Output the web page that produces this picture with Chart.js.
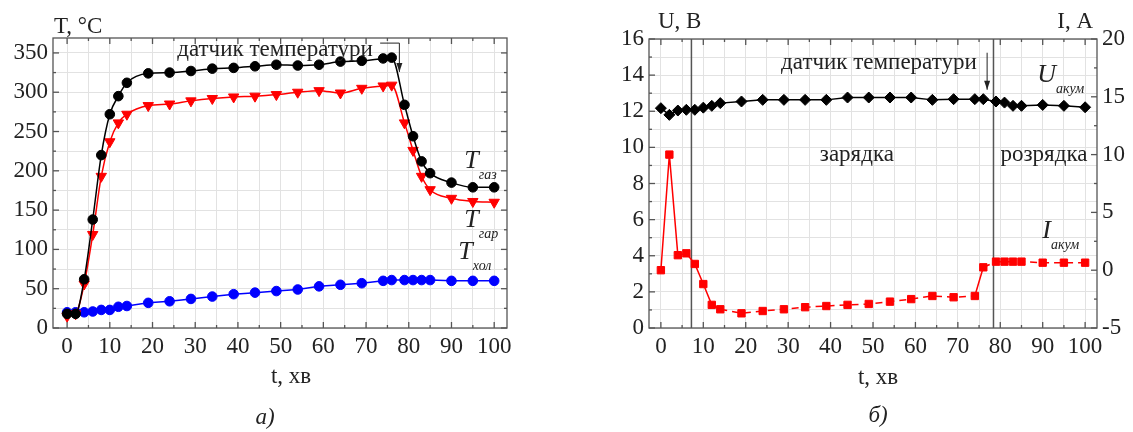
<!DOCTYPE html>
<html>
<head>
<meta charset="utf-8">
<script src="https://cdn.jsdelivr.net/npm/chart.js@4.4.0/dist/chart.umd.min.js"></script>
<style>
body { margin: 0; background: #fff; width: 1133px; height: 432px; overflow: hidden; }
canvas { position: absolute; top: 0; }
#chartA { left: 0; }
#chartB { left: 580px; }
</style>
</head>
<body>
<canvas id="chartA" width="560" height="432"></canvas>
<canvas id="chartB" width="553" height="432"></canvas>
<script>
// time, minutes (same sampling for both panels)
var TIME = [0,2,4,6,8,10,12,14,19,24,29,34,39,44,49,54,59,64,69,74,76,79,81,83,85,90,95,100];

// panel a) temperatures, °C
var T_GAZ = [18,18,62,138,220,272,295,312,324,325,327,330,331,333,335,334,335,339,340,343,344,284,244,212,197,185,179,179];
var T_GAR = [15,18,56,119,193,237,261,272,283,285,289,292,294,295,297,300,302,299,305,308,309,261,226,193,176,165,161,160];
var T_HOL = [20,20,20,21,23,23,27,28,32,34,37,40,43,45,47,49,53,55,57,60,61,61,61,61,61,60,60,60];

// panel б) battery voltage (V) and current (A)
var U_AKUM = [12.17,11.8,12.04,12.08,12.08,12.2,12.3,12.45,12.54,12.63,12.63,12.63,12.63,12.76,12.76,12.76,12.76,12.63,12.67,12.67,12.67,12.54,12.48,12.3,12.3,12.35,12.3,12.22];
var I_AKUM = [0,10,1.3,1.46,0.54,-1.2,-3.0,-3.38,-3.73,-3.53,-3.38,-3.2,-3.1,-3.0,-2.92,-2.72,-2.5,-2.23,-2.34,-2.23,0.25,0.74,0.74,0.74,0.74,0.65,0.65,0.65];

// tick labels
var T_LABELS = [0,10,20,30,40,50,60,70,80,90,100];
var TEMP_LABELS = [0,50,100,150,200,250,300,350];
var U_LABELS = [0,2,4,6,8,10,12,14,16];
var I_LABELS = [-5,0,5,10,15,20];

// moments marked by vertical lines on panel б)
var PHASE_LINES = [7.2, 78.4];

var SERIF = '"Liberation Serif", "Times New Roman", serif';
var TXT = '#222';

function range(a, b, step) {
  var out = [];
  for (var v = a; v <= b + 1e-9; v += step) out.push(Math.round(v * 100) / 100);
  return out;
}

function makeScale(min, max, labels, minorStep, extra) {
  var s = {
    type: 'linear', min: min, max: max,
    afterBuildTicks: function(sc) {
      sc.ticks = range(labels[0], labels[labels.length - 1], minorStep).map(function(v){ return {value: v}; });
    },
    ticks: {
      autoSkip: false, maxRotation: 0, color: TXT, padding: 5,
      font: { family: SERIF, size: 23 },
      callback: function(v) { return labels.indexOf(v) >= 0 ? String(v) : ''; }
    },
    grid: { color: '#e2e2e2', lineWidth: 1, drawTicks: false },
    border: { display: false }
  };
  for (var k in extra) s[k] = extra[k];
  return s;
}

function line(ctx, x1, y1, x2, y2) {
  ctx.beginPath(); ctx.moveTo(x1, y1); ctx.lineTo(x2, y2); ctx.stroke();
}

// frame, inward ticks, phase lines, text notes
var decor = {
  id: 'decor',
  beforeDatasetsDraw: function(chart) {
    var o = chart.options.plugins.decor, ctx = chart.ctx, a = chart.chartArea;
    if (!o.vlines) return;
    ctx.save();
    ctx.strokeStyle = '#555'; ctx.lineWidth = 1.5;
    o.vlines.forEach(function(v) {
      var px = chart.scales.x.getPixelForValue(v);
      line(ctx, px, a.top, px, a.bottom);
    });
    ctx.restore();
  },
  afterDraw: function(chart) {
    var o = chart.options.plugins.decor, ctx = chart.ctx, a = chart.chartArea, sc = chart.scales;
    ctx.save();
    ctx.strokeStyle = '#555'; ctx.lineWidth = 1.3;
    ctx.strokeRect(a.left, a.top, a.right - a.left, a.bottom - a.top);
    sc.x.ticks.forEach(function(t) {
      var px = sc.x.getPixelForValue(t.value), len = t.label !== '' ? 6 : 3;
      line(ctx, px, a.bottom, px, a.bottom - len);
      line(ctx, px, a.top, px, a.top + len);
    });
    sc.y.ticks.forEach(function(t) {
      var py = sc.y.getPixelForValue(t.value), len = t.label !== '' ? 6 : 3;
      line(ctx, a.left, py, a.left + len, py);
      if (!sc.y2) line(ctx, a.right, py, a.right - len, py);
    });
    if (sc.y2) sc.y2.ticks.forEach(function(t) {
      var py = sc.y2.getPixelForValue(t.value), len = t.label !== '' ? 6 : 3;
      line(ctx, a.right, py, a.right - len, py);
    });

    // arrows
    ctx.strokeStyle = '#222'; ctx.fillStyle = '#222'; ctx.lineWidth = 1;
    (o.arrows || []).forEach(function(ar) {
      var pts = ar.map(function(p){ return [sc.x.getPixelForValue(p[0]), sc.y.getPixelForValue(p[1])]; });
      ctx.beginPath(); ctx.moveTo(pts[0][0], pts[0][1]);
      for (var i = 1; i < pts.length; i++) ctx.lineTo(pts[i][0], pts[i][1]);
      ctx.stroke();
      var e = pts[pts.length - 1];
      ctx.beginPath(); ctx.moveTo(e[0], e[1]); ctx.lineTo(e[0] - 3, e[1] - 9); ctx.lineTo(e[0] + 3, e[1] - 9); ctx.closePath(); ctx.fill();
    });

    // notes in data coordinates
    ctx.fillStyle = TXT;
    (o.notes || []).forEach(function(n) {
      var px = sc.x.getPixelForValue(n.x), py = sc.y.getPixelForValue(n.y);
      ctx.font = (n.italic ? 'italic ' : '') + (n.size || 23) + 'px ' + SERIF;
      ctx.textAlign = n.align || 'left';
      ctx.textBaseline = n.base || 'alphabetic';
      ctx.fillText(n.text, px, py);
      if (n.sub) {
        var w = ctx.measureText(n.text).width;
        ctx.font = 'italic 14px ' + SERIF;
        ctx.textAlign = 'left';
        ctx.fillText(n.sub, px + w, py + 11);
      }
    });

    // axis titles and panel caption
    ctx.textBaseline = 'alphabetic';
    (o.titles || []).forEach(function(t) {
      ctx.textAlign = t.align;
      var x = t.from === 'right' ? a.right + t.dx : t.from === 'center' ? (a.left + a.right) / 2 + t.dx : a.left + t.dx;
      ctx.font = (t.italic ? 'italic ' : '') + '23px ' + SERIF;
      ctx.fillText(t.text, x, t.y);
    });
    ctx.restore();
  }
};

var common = {
  responsive: false, animation: false, devicePixelRatio: 1,
  plugins: { legend: { display: false }, tooltip: { enabled: false } },
  elements: { line: { borderWidth: 1.5 }, point: { borderWidth: 1 } }
};

function series(xs, ys) {
  return xs.map(function(t, i){ return {x: t, y: ys[i]}; });
}

new Chart(document.getElementById('chartA'), {
  type: 'line',
  data: {
    datasets: [
      { data: series(TIME, T_GAZ), borderColor: '#000', backgroundColor: '#000', pointStyle: 'circle', pointRadius: 4.8, cubicInterpolationMode: 'monotone' },
      { data: series(TIME, T_GAR), borderColor: '#ff0000', backgroundColor: '#ff0000', pointStyle: 'triangle', rotation: 180, pointRadius: 6, cubicInterpolationMode: 'monotone' },
      { data: series(TIME, T_HOL), borderColor: '#0000ff', backgroundColor: '#0000ff', pointStyle: 'circle', pointRadius: 4.8 }
    ]
  },
  options: Object.assign({}, common, {
    layout: { padding: { top: 38, right: 53 } },
    scales: {
      x: makeScale(-3.3, 103, T_LABELS, 5, { afterFit: function(s){ s.height = 104; } }),
      y: makeScale(0, 369, TEMP_LABELS, 25, { afterFit: function(s){ s.width = 53; } })
    },
    plugins: Object.assign({}, common.plugins, {
      decor: {
        arrows: [[[73.3, 362.5], [77.8, 362.5], [77.8, 325.7]]],
        notes: [
          { text: 'датчик температури', x: 48.7, y: 353.6, align: 'center', base: 'middle' },
          { text: 'T', sub: 'газ', x: 93, y: 204, italic: true, size: 26 },
          { text: 'T', sub: 'гар', x: 93, y: 129, italic: true, size: 26 },
          { text: 'T', sub: 'хол', x: 91.6, y: 87.5, italic: true, size: 26 }
        ],
        titles: [
          { text: 'T, °C', align: 'left', from: 'left', dx: 1, y: 33 },
          { text: 't, хв', align: 'center', from: 'center', dx: 11, y: 383 },
          { text: 'а)', align: 'center', from: 'center', dx: -15, y: 424, italic: true }
        ]
      }
    })
  }),
  plugins: [decor]
});

new Chart(document.getElementById('chartB'), {
  type: 'line',
  data: {
    datasets: [
      { data: series(TIME, U_AKUM), yAxisID: 'y', borderColor: '#000', backgroundColor: '#000', pointStyle: 'rectRot', pointRadius: 5.5 },
      { data: series(TIME, I_AKUM), yAxisID: 'y2', borderColor: '#ff0000', backgroundColor: '#ff0000', pointStyle: 'rect', pointRadius: 5.2,
        segment: { borderDash: function(c) {
          return c.p0.parsed.x >= 14 && Math.abs(c.p1.parsed.y - c.p0.parsed.y) < 1 ? [7, 5] : undefined;
        } } }
    ]
  },
  options: Object.assign({}, common, {
    layout: { padding: { top: 39 } },
    scales: {
      x: makeScale(-2.8, 102.8, T_LABELS, 5, { afterFit: function(s){ s.height = 104; } }),
      y: makeScale(0, 16, U_LABELS, 1, { afterFit: function(s){ s.width = 69; } }),
      y2: makeScale(-5, 20, I_LABELS, 2.5, { position: 'right', grid: { drawOnChartArea: false, drawTicks: false }, afterFit: function(s){ s.width = 36; } })
    },
    plugins: Object.assign({}, common.plugins, {
      decor: {
        vlines: PHASE_LINES,
        arrows: [[[76.9, 15.24], [76.9, 13.19]]],
        notes: [
          { text: 'датчик температури', x: 51.4, y: 14.68, align: 'center', base: 'middle' },
          { text: 'U', sub: 'акум', x: 88.7, y: 13.63, italic: true, size: 26 },
          { text: 'зарядка', x: 46.2, y: 9.58, align: 'center', base: 'middle' },
          { text: 'розрядка', x: 90.3, y: 9.58, align: 'center', base: 'middle' },
          { text: 'I', sub: 'акум', x: 89.9, y: 4.99, italic: true, size: 26 }
        ],
        titles: [
          { text: 'U, B', align: 'left', from: 'left', dx: 9, y: 28 },
          { text: 'I, A', align: 'right', from: 'right', dx: -4, y: 28 },
          { text: 't, хв', align: 'center', from: 'center', dx: 5, y: 384 },
          { text: 'б)', align: 'center', from: 'center', dx: 5, y: 422, italic: true }
        ]
      }
    })
  }),
  plugins: [decor]
});
</script>
</body>
</html>
